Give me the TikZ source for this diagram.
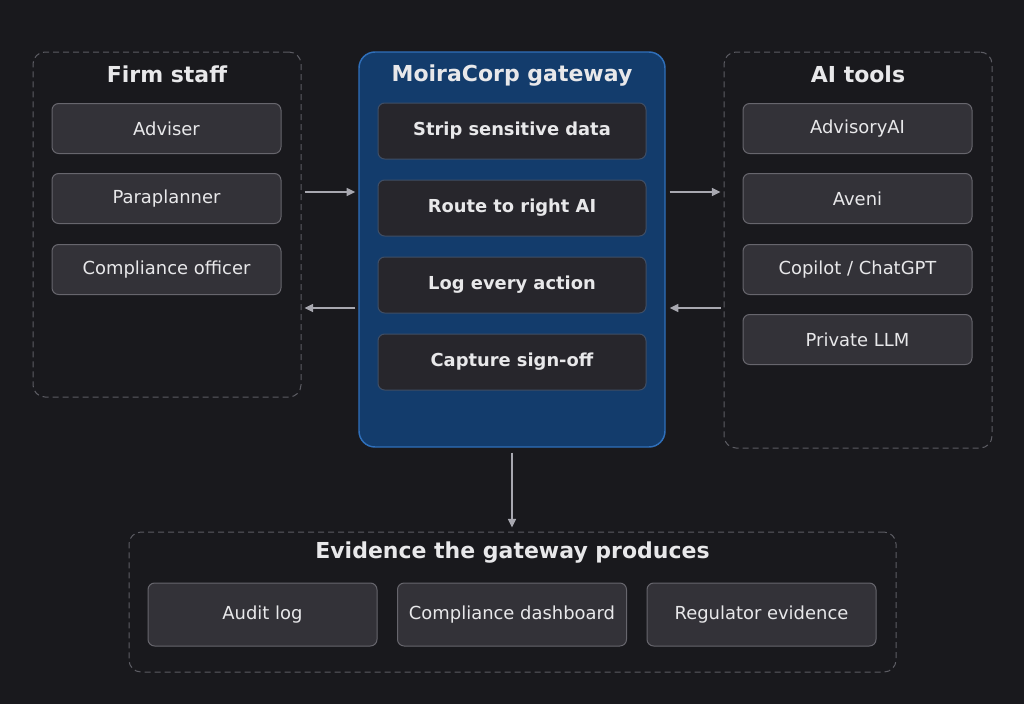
\documentclass[tikz,border=0pt]{standalone}
\usepackage{fontspec}
\setmainfont{DejaVu Sans}
\usetikzlibrary{arrows.meta}
\definecolor{bg}{HTML}{19191D}
\definecolor{panelline}{HTML}{5C5C63}
\definecolor{boxfill}{HTML}{333238}
\definecolor{boxline}{HTML}{67666D}
\definecolor{gwfill}{HTML}{133C6C}
\definecolor{gwline}{HTML}{2F6FBA}
\definecolor{innerfill}{HTML}{27262C}
\definecolor{innerline}{HTML}{3F4E66}
\definecolor{txt}{HTML}{E8E8EA}
\definecolor{arrowc}{HTML}{A8A8B0}
\tikzset{
  panel/.style={draw=panelline, line width=0.75pt, dash pattern=on 4.5pt off 3pt, rounded corners=9pt, inner sep=0pt},
  gwpanel/.style={draw=gwline, fill=gwfill, line width=1.1pt, rounded corners=12pt, inner sep=0pt, minimum width=229.5pt, minimum height=296.25pt},
  boxnode/.style={draw=boxline, fill=boxfill, line width=0.75pt, rounded corners=5pt, minimum width=171.75pt, minimum height=37.5pt, text=txt, font=\fontsize{13.45}{15}\selectfont, inner sep=0pt},
  innerbox/.style={draw=innerline, fill=innerfill, line width=0.75pt, rounded corners=5pt, minimum width=201pt, minimum height=42pt, text=txt, font=\fontsize{13.4}{15}\selectfont\bfseries, inner sep=0pt},
  evbox/.style={boxnode, minimum height=47.25pt},
  ttl/.style={text=txt, font=\fontsize{16.5}{19}\selectfont\bfseries, inner sep=0pt},
  arr/.style={draw=arrowc, line width=1.1pt, -{Triangle[length=6.5pt,width=6pt]}},
}
\begin{document}
\begin{tikzpicture}[x=0.75pt,y=-0.75pt]
\fill[bg] (0,0) rectangle (1024,704);
\useasboundingbox (0,0) rectangle (1024,704);
% panels
\node[panel, minimum width=201pt, minimum height=258.75pt] (left) at (167,224.5) {};
\node[ttl] (lefttitle) at (167,74.5) {Firm staff};
\node[panel, minimum width=201pt, minimum height=297pt] (right) at (858,250) {};
\node[ttl] (righttitle) at (858,74.5) {AI tools};
\node[panel, minimum width=575.25pt, minimum height=105pt] (bottom) at (512.5,602) {};
\node[ttl] (bottomtitle) at (512.5,552.5) {Evidence the gateway produces};
\node[gwpanel] (gw) at (512,249.5) {};
\node[ttl] (gwtitle) at (512,75.5) {MoiraCorp gateway};
% left boxes
\node[boxnode] (adviser) at (166.5,128.5) {Adviser};
\node[boxnode] (para) at (166.5,198.5) {Paraplanner};
\node[boxnode] (comp) at (166.5,269.5) {Compliance officer};
% gateway boxes
\node[innerbox] (strip) at (512,131) {Strip sensitive data};
\node[innerbox] (route) at (512,208) {Route to right AI};
\node[innerbox] (logact) at (512,285) {Log every action};
\node[innerbox] (signoff) at (512,362) {Capture sign-off};
% right boxes
\node[boxnode] (advai) at (857.5,128.5) {AdvisoryAI};
\node[boxnode] (aveni) at (857.5,198.5) {Aveni};
\node[boxnode] (copilot) at (857.5,269.5) {Copilot / ChatGPT};
\node[boxnode] (llm) at (857.5,339.5) {Private LLM};
% bottom boxes
\node[evbox] (audit) at (262.5,614.5) {Audit log};
\node[evbox] (dash) at (512,614.5) {Compliance dashboard};
\node[evbox] (reg) at (761.5,614.5) {Regulator evidence};
% arrows
\coordinate (rowA) at (0,192);
\coordinate (rowB) at (0,308);
\draw[arr, shorten <=2.25pt, shorten >=2.25pt] (left.east |- rowA) -- (gw.west |- rowA);
\draw[arr, shorten <=2.25pt, shorten >=2.25pt] (gw.west |- rowB) -- (left.east |- rowB);
\draw[arr, shorten <=3pt, shorten >=2.25pt] (gw.east |- rowA) -- (right.west |- rowA);
\draw[arr, shorten <=2.25pt, shorten >=3pt] (right.west |- rowB) -- (gw.east |- rowB);
\draw[arr, shorten <=3.75pt, shorten >=3pt] (gw.south) -- (gw.south |- bottom.north);
\end{tikzpicture}
\end{document}
